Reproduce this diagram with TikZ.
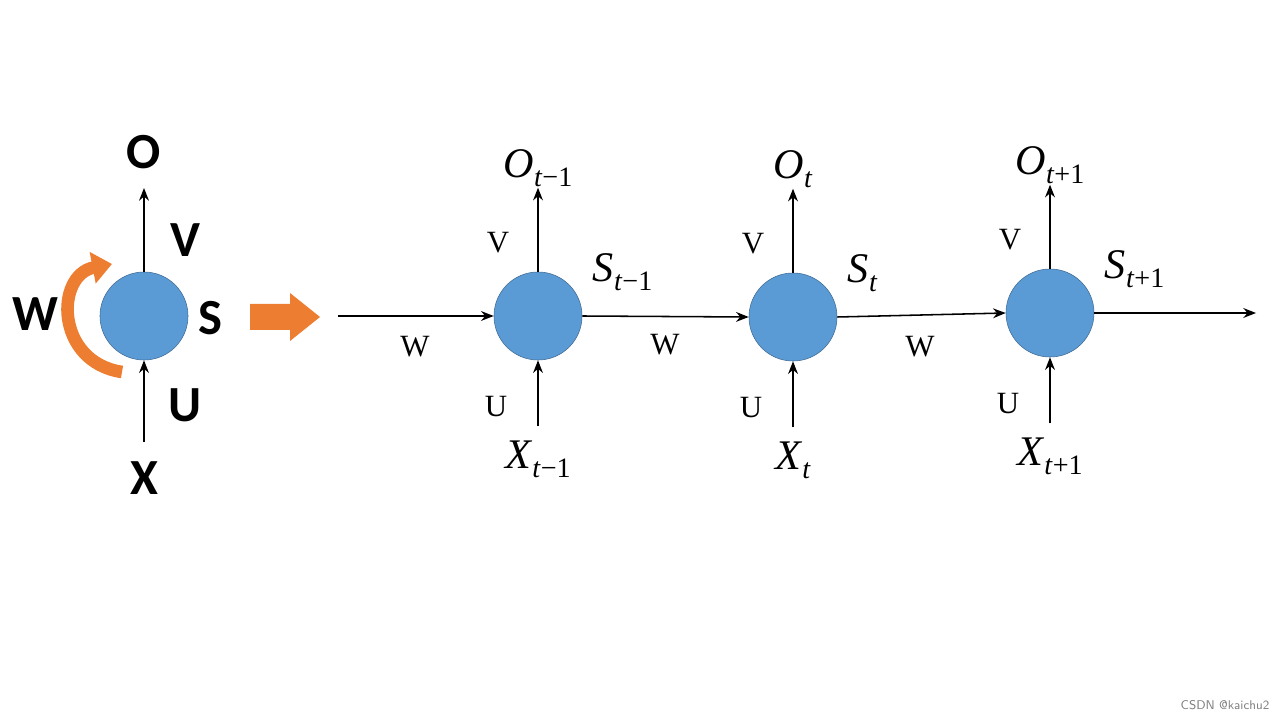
\documentclass[tikz,border=0pt]{standalone}
\usepackage{fontspec}
\setmainfont{Liberation Serif}
\newfontfamily\boldsans{Carlito}
\usetikzlibrary{arrows.meta,positioning}
\definecolor{cellblue}{HTML}{5B9BD5}
\definecolor{loopor}{HTML}{ED7D31}
\newcommand{\tsub}[2]{\textit{#1}\raisebox{-0.45ex}{\fontsize{20}{22}\selectfont\textit{t}#2}}
\tikzset{
  cell/.style={circle,fill=cellblue,draw=cellblue!70!black,minimum size=2.2cm,inner sep=0pt},
  flow/.style={-{Stealth[length=9pt,width=7pt]},line width=1.1pt},
  big/.style={font=\boldsans\bfseries\fontsize{36}{40}\selectfont},
  lab/.style={font=\fontsize{22}{24}\selectfont},
  var/.style={font=\fontsize{30}{32}\selectfont}
}
\begin{document}
\begin{tikzpicture}[x=0.025cm,y=-0.025cm]
	\useasboundingbox (0,0) rectangle (1280,720);
	
	% folded network
	\node[cell] (s) at (144,316) {};
	\node[big] (o) at (144,152) {O};
	\node[big] (x) at (144,478) {X};
	\node[big] at (185,240) {V};
	\node[big] at (210,318) {S};
	\node[big] at (35,314) {W};
	\node[big] at (185,405) {U};
	\coordinate (otip) at (144,188);
	\coordinate (xfoot) at (144,442);
	\draw[flow] (s.north) -- (otip);
	\draw[flow] (xfoot) -- (s.south);
	\draw[loopor,line width=9pt,-{Triangle[length=14pt,width=22pt]}] 
	  (122,372) .. controls (55,362) and (55,275) .. (112,264);
	
	% unfold arrow
	\fill[loopor] (250,304) -- (290,304) -- (290,293) -- (320,317) -- (290,341) -- (290,330) -- (250,330) -- cycle;
	
	% unfolded chain
	\coordinate (in) at (338,316);
	\coordinate (out) at (1256,313);
	\foreach \i/\cx/\cy/\sub in {1/538/316/{−1},2/793/317/{},3/1050/313/{+1}}{
		\node[cell] (c\i) at (\cx,\cy) {};
		\node[var,above=2.0cm of c\i] (o\i) {\tsub{O}{\sub}};
		\node[var,below=1.9cm of c\i] (x\i) {\tsub{X}{\sub}};
		\draw[flow] (c\i.north) -- ++(0,-84);
		\draw[flow] (x\i.north) ++(0,-10) -- (c\i.south);
		\node[lab] at (\cx-40,\cy-73) {V};
		\node[lab] at (\cx-42,\cy+91) {U};
		\node[var,anchor=west] at (\cx+50,\cy-44) {\tsub{S}{\sub}};
	}
	\draw[flow] (in) -- (c1.west);
	\draw[flow] (c1.east) -- (c2.west);
	\draw[flow] (c2.east) -- (c3.west);
	\draw[flow] (c3.east) -- (out);
	\node[lab] at (415,347) {W};
	\node[lab] at (665,345) {W};
	\node[lab] at (920,347) {W};
	
	\node[font=\sffamily\fontsize{9}{10}\selectfont,text=gray] at (1225,705) {CSDN @kaichu2};
\end{tikzpicture}
\end{document}
